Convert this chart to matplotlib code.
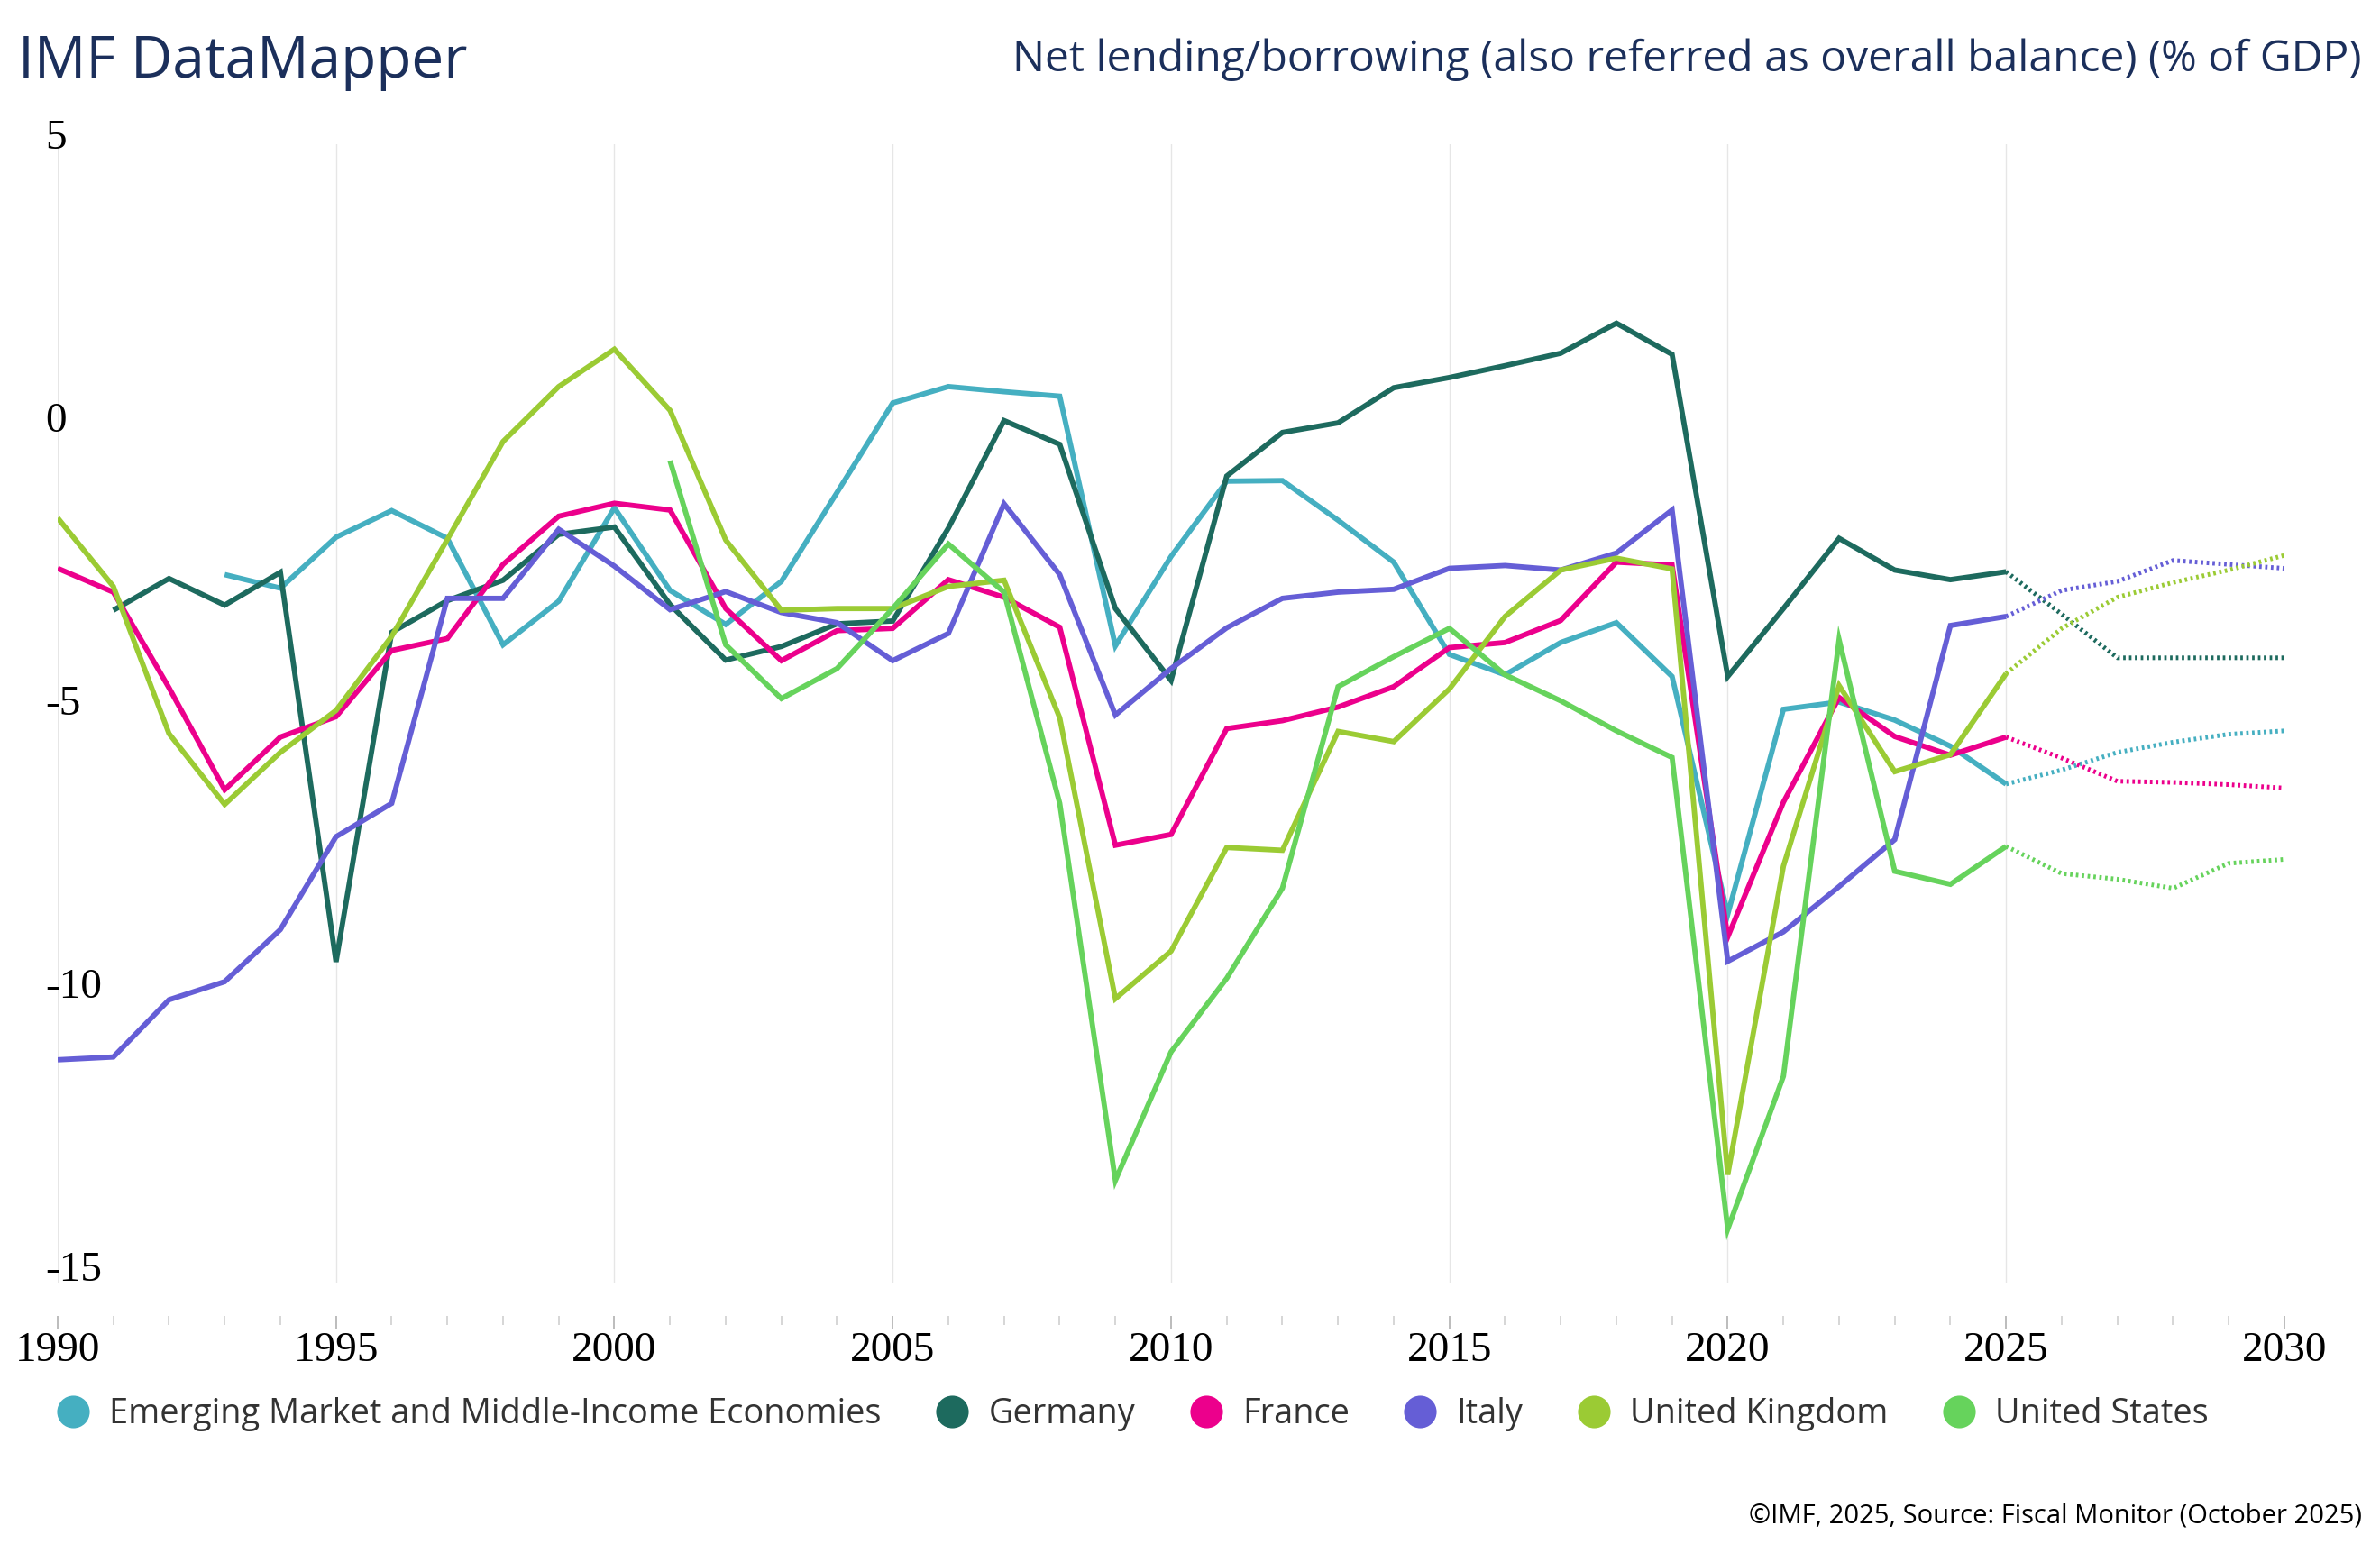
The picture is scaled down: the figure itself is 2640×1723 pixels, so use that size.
import numpy as np
import matplotlib
matplotlib.use('Agg')
import matplotlib.pyplot as plt
from matplotlib.lines import Line2D
from matplotlib import transforms

# ─── DATA ────────────────────────────────────────────────────────────────────

YEARS = list(range(1990, 2031))
FORECAST_FROM = 2025

NAMES = ['Emerging Market and Middle-Income Economies', 'Germany', 'France',
         'Italy', 'United Kingdom', 'United States']
COLORS = ['#45afc1', '#1d6a5e', '#ec008c', '#655ed6', '#9bcb34', '#66d35c']

EMMIE = [None] * 3 + [
    -2.70, -2.94, -2.04, -1.57, -2.06, -3.94, -3.17, -1.52, -2.98, -3.58,
    -2.82, -1.25, 0.33, 0.62, 0.53, 0.45, -3.96, -2.38, -1.05, -1.04,
    -1.74, -2.48, -4.11, -4.47, -3.90, -3.55, -4.50, -8.70, -5.08, -4.95,
    -5.27, -5.73, -6.40, -6.15, -5.84, -5.66, -5.52, -5.46]
GERMANY = [None] + [
    -3.33, -2.77, -3.24, -2.66, -9.54, -3.72, -3.16, -2.80, -1.99, -1.86,
    -3.23, -4.21, -3.97, -3.57, -3.52, -1.88, 0.02, -0.40, -3.30, -4.57,
    -0.96, -0.19, -0.02, 0.60, 0.78, 0.99, 1.21, 1.74, 1.19, -4.50,
    -3.30, -2.06, -2.62, -2.79, -2.65, -3.40, -4.17, -4.17, -4.17, -4.17]
FRANCE = [
    -2.59, -3.01, -4.70, -6.50, -5.57, -5.21, -4.04, -3.83, -2.52, -1.67,
    -1.44, -1.56, -3.30, -4.22, -3.69, -3.65, -2.79, -3.10, -3.63, -7.48,
    -7.29, -5.42, -5.28, -5.04, -4.68, -3.99, -3.90, -3.51, -2.48, -2.53,
    -9.10, -6.72, -4.87, -5.56, -5.89, -5.57, -5.94, -6.35, -6.37, -6.41, -6.47]
ITALY = [
    -11.27, -11.22, -10.21, -9.89, -8.97, -7.33, -6.74, -3.12, -3.12, -1.90,
    -2.55, -3.32, -3.00, -3.37, -3.55, -4.22, -3.74, -1.45, -2.70, -5.18,
    -4.36, -3.64, -3.12, -3.01, -2.96, -2.59, -2.54, -2.62, -2.32, -1.56,
    -9.53, -9.01, -8.21, -7.38, -3.60, -3.44, -2.98, -2.82, -2.45, -2.52, -2.59]
UK = [
    -1.70, -2.91, -5.51, -6.76, -5.84, -5.10, -3.79, -2.08, -0.35, 0.62,
    1.28, 0.20, -2.09, -3.33, -3.30, -3.30, -2.91, -2.80, -5.23, -10.19,
    -9.35, -7.52, -7.57, -5.47, -5.65, -4.72, -3.44, -2.62, -2.41, -2.60,
    -13.30, -7.85, -4.66, -6.18, -5.88, -4.45, -3.65, -3.10, -2.84, -2.62, -2.36]
US = [None] * 11 + [
    -0.69, -3.94, -4.89, -4.36, -3.30, -2.16, -3.01, -6.74, -13.40, -11.13,
    -9.83, -8.24, -4.68, -4.15, -3.65, -4.47, -4.93, -5.46, -5.93, -14.26,
    -11.56, -3.85, -7.94, -8.17, -7.50, -7.98, -8.08, -8.24, -7.80, -7.73]

SERIES = [EMMIE, GERMANY, FRANCE, ITALY, UK, US]

X_TICKS = list(range(1990, 2031, 5))
Y_TICKS = [5, 0, -5, -10, -15]

TITLE = 'IMF DataMapper'
SUBTITLE = 'Net lending/borrowing (also referred as overall balance) (% of GDP)'
SOURCE = '\u00a9IMF, 2025, Source: Fiscal Monitor (October 2025)'

# ─── PLOT ────────────────────────────────────────────────────────────────────

NAVY = '#1b2f5b'
TEXT = '#333333'
SANS = ['Open Sans', 'DejaVu Sans']
SERIF = ['Liberation Serif', 'DejaVu Serif']

fig = plt.figure(figsize=(13.2, 8.615), dpi=200)
ax = fig.add_axes([0.02424, 0.1743, 0.9356, 0.7328])

years = np.array(YEARS)
hist = years <= FORECAST_FROM
fcst = years >= FORECAST_FROM

for vals, color in zip(SERIES, COLORS):
    y = np.array([np.nan if v is None else v for v in vals], dtype=float)
    ax.plot(years[hist], y[hist], color=color, lw=2.1,
            solid_joinstyle='miter', solid_capstyle='butt')
    ax.plot(years[fcst], y[fcst], color=color, lw=1.8,
            linestyle=(0, (0.55, 0.75)), dash_capstyle='butt')

ax.set_xlim(1990, 2030)
ax.set_ylim(-15.2, 4.9)

for s in ax.spines.values():
    s.set_visible(False)
ax.spines['bottom'].set_position(('outward', 13.3))

ax.set_xticks(X_TICKS)
ax.set_xticks(YEARS, minor=True)
ax.set_xticklabels([str(t) for t in X_TICKS], family=SERIF, fontsize=17,
                   color='black')
ax.tick_params(axis='x', which='major', length=5.4, width=0.6,
               color='#b0b0b0', pad=1.0)
ax.tick_params(axis='x', which='minor', length=3.6, width=0.6,
               color='#d0d0d0')
ax.grid(axis='x', which='major', color='#e6e6e6', lw=0.5)
ax.set_axisbelow(True)

ax.set_yticks([])
ytrans = transforms.blended_transform_factory(ax.transAxes, ax.transData)
for t in Y_TICKS:
    ax.text(-0.0055, t, str(t), transform=ytrans, ha='left', va='center',
            family=SERIF, fontsize=17, color='black')

fig.text(0.0076, 0.9600, TITLE, family=SANS, fontsize=23, color=NAVY,
         ha='left', va='center')
fig.text(0.9924, 0.9615, SUBTITLE, family=SANS, fontsize=17.3, color=NAVY,
         ha='right', va='center')
fig.text(0.9924, 0.0238, SOURCE, family=SANS, fontsize=10.5, color='black',
         ha='right', va='center')

handles = [Line2D([], [], marker='o', ls='none', markersize=12,
                  markerfacecolor=c, markeredgecolor=c) for c in COLORS]
leg = fig.legend(handles, NAMES, ncol=6, loc='center left',
                 bbox_to_anchor=(0.0235, 0.0895), frameon=False,
                 prop={'family': SANS, 'size': 13.65}, handlelength=1.0,
                 handletextpad=0.56, columnspacing=1.57, borderpad=0,
                 borderaxespad=0)
for txt in leg.get_texts():
    txt.set_color(TEXT)

fig.savefig('out.png', dpi=200)
